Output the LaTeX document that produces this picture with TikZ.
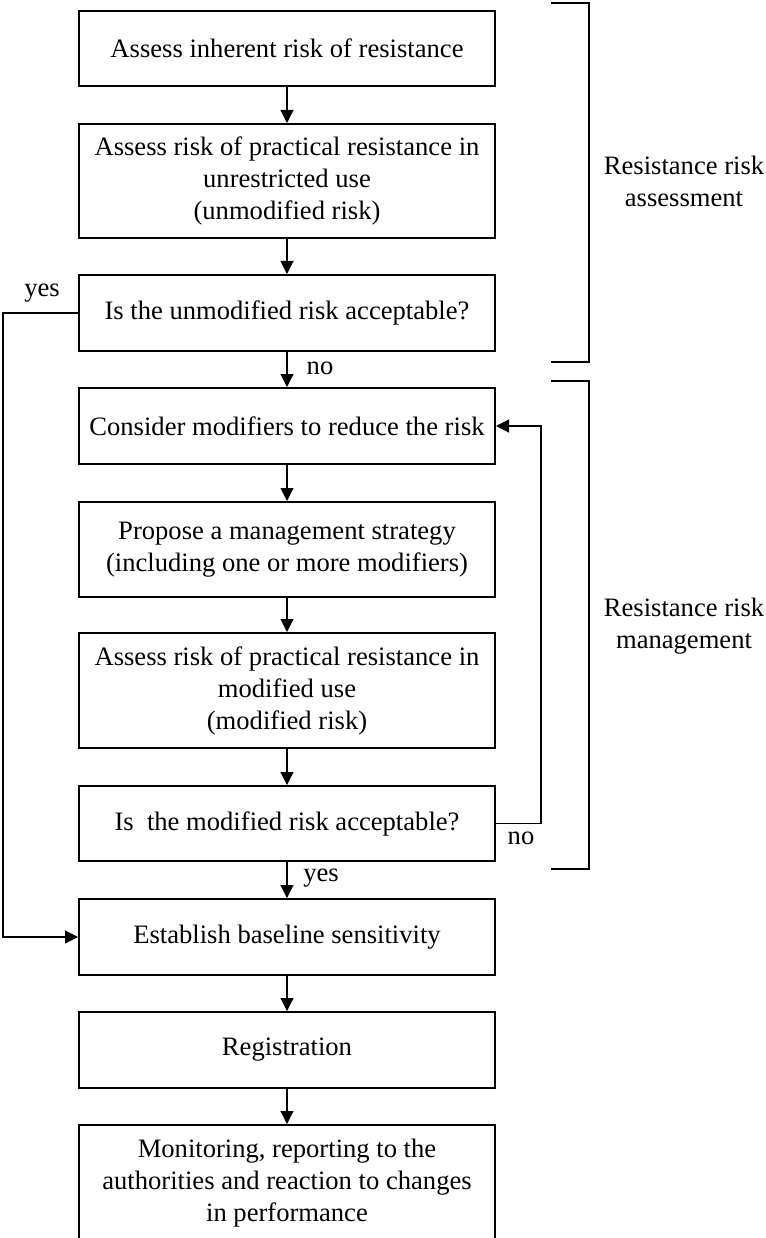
\documentclass[tikz,border=0pt]{standalone}
\usepackage{fontspec}
\setmainfont{Liberation Serif}
\usetikzlibrary{arrows.meta}

\tikzset{
	box/.style={draw, line width=2pt, minimum width=416pt, inner sep=0pt, align=center, font=\fontsize{26.6}{32}\selectfont},
	link/.style={line width=1.1pt, -{Triangle[length=13pt,width=13pt]}},
	brack/.style={line width=2pt},
	lbl/.style={align=center, font=\fontsize{26.6}{32}\selectfont}
}

\begin{document}
\begin{tikzpicture}[x=1pt,y=-1pt]

\useasboundingbox (0,0) rectangle (765,1238);

\def \cx {287}

\node[box, minimum height=75pt]  (inherent) at (\cx,48.5)  {Assess inherent risk of resistance};
\node[box, minimum height=114pt] (unmod)    at (\cx,181)   {Assess risk of practical resistance in\\unrestricted use\\(unmodified risk)};
\node[box, minimum height=76pt]  (unmodok)  at (\cx,313)   {Is the unmodified risk acceptable?};
\node[box, minimum height=76pt]  (consider) at (\cx,426)   {Consider modifiers to reduce the risk};
\node[box, minimum height=95pt]  (propose)  at (\cx,549.5) {Propose a management strategy\\(including one or more modifiers)};
\node[box, minimum height=115pt] (mod)      at (\cx,690.5) {Assess risk of practical resistance in\\modified use\\(modified risk)};
\node[box, minimum height=75pt]  (modok)    at (\cx,823.5) {Is\ \ the modified risk acceptable?};
\node[box, minimum height=76pt]  (baseline) at (\cx,937)   {Establish baseline sensitivity};
\node[box, minimum height=76pt]  (regist)   at (\cx,1050)  {Registration};
\node[box, minimum height=116pt] (monitor)  at (\cx,1183)  {Monitoring, reporting to the\\authorities and reaction to changes\\in performance};

\foreach \a/\b in {inherent/unmod, unmod/unmodok, unmodok/consider, consider/propose, propose/mod, mod/modok, modok/baseline, baseline/regist, regist/monitor}{
	\draw[link] (\a) -- (\b);
}

\draw[link] (unmodok.west) -- ++(-75,0) |- (baseline.west);
\draw[link] (modok.east) -- ++(45,0) |- (consider.east);

\node[lbl] (yesA) at (42,293)  {yes};
\node[lbl] (noA)  at (320,368) {no};
\node[lbl] (noB)  at (521,838) {no};
\node[lbl] (yesB) at (321,878) {yes};

% brackets
\draw[brack] (551,3)   -- (589,3)   -- (589,362) -- (551,362);
\draw[brack] (551,381) -- (589,381) -- (589,869) -- (551,869);

\node[lbl] (assess) at (684,181) {Resistance risk\\assessment};
\node[lbl] (manage) at (684,626) {Resistance risk\\management};

\end{tikzpicture}
\end{document}
